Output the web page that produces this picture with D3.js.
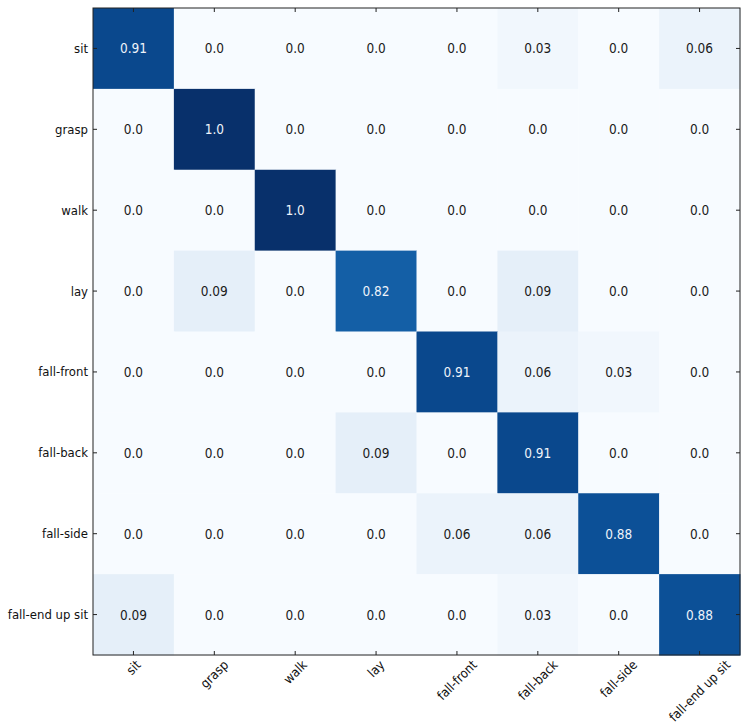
<!DOCTYPE html>
<html>
<head>
<meta charset="utf-8">
<script src="https://cdn.jsdelivr.net/npm/d3@7"></script>
<style>
  body { margin: 0; background: #fff; }
  text { font-family: "DejaVu Sans Condensed", "DejaVu Sans", sans-serif; }
</style>
</head>
<body>
<div id="chart"></div>
<script>
// class names, same order for rows (true) and columns (predicted)
var classes = ["sit", "grasp", "walk", "lay", "fall-front", "fall-back", "fall-side", "fall-end up sit"];

// normalised confusion matrix, one row per true class
var rowSit        = [0.91, 0.0, 0.0, 0.0, 0.0, 0.03, 0.0, 0.06];
var rowGrasp      = [0.0, 1.0, 0.0, 0.0, 0.0, 0.0, 0.0, 0.0];
var rowWalk       = [0.0, 0.0, 1.0, 0.0, 0.0, 0.0, 0.0, 0.0];
var rowLay        = [0.0, 0.09, 0.0, 0.82, 0.0, 0.09, 0.0, 0.0];
var rowFallFront  = [0.0, 0.0, 0.0, 0.0, 0.91, 0.06, 0.03, 0.0];
var rowFallBack   = [0.0, 0.0, 0.0, 0.09, 0.0, 0.91, 0.0, 0.0];
var rowFallSide   = [0.0, 0.0, 0.0, 0.0, 0.06, 0.06, 0.88, 0.0];
var rowFallEndSit = [0.09, 0.0, 0.0, 0.0, 0.0, 0.03, 0.0, 0.88];

var matrix = [rowSit, rowGrasp, rowWalk, rowLay, rowFallFront, rowFallBack, rowFallSide, rowFallEndSit];

var width = 748, height = 726;
var margin = { top: 8, right: 8, bottom: 71, left: 93 };
var plotW = width - margin.left - margin.right;
var plotH = height - margin.top - margin.bottom;
var fs = 13;

var svg = d3.select("#chart").append("svg")
    .attr("width", width)
    .attr("height", height);

var g = svg.append("g")
    .attr("transform", "translate(" + margin.left + "," + margin.top + ")");

var x = d3.scaleBand().domain(classes).range([0, plotW]);
var y = d3.scaleBand().domain(classes).range([0, plotH]);
var color = d3.scaleSequential(d3.interpolateBlues).domain([0, 1]);

// flatten the matrix into cells
var cells = [];
matrix.forEach(function (row, i) {
    row.forEach(function (v, j) {
        cells.push({ row: classes[i], col: classes[j], value: v });
    });
});

function fmt(v) {
    // python-style str() of a rounded float
    return (v === Math.round(v)) ? v.toFixed(1) : String(v);
}

g.selectAll("rect.cell")
    .data(cells)
    .enter()
    .append("rect")
    .attr("class", "cell")
    .attr("x", d => x(d.col))
    .attr("y", d => y(d.row))
    .attr("width", x.bandwidth() + 0.5)
    .attr("height", y.bandwidth() + 0.5)
    .attr("fill", d => color(d.value));

var thresh = d3.max(cells, d => d.value) / 2;

g.selectAll("text.val")
    .data(cells)
    .enter()
    .append("text")
    .attr("class", "val")
    .attr("x", d => x(d.col) + x.bandwidth() / 2)
    .attr("y", d => y(d.row) + y.bandwidth() / 2)
    .attr("text-anchor", "middle")
    .attr("dominant-baseline", "central")
    .attr("font-size", fs + 0.5)
    .attr("fill", d => d.value > thresh ? "#eef3fa" : "#1a1a1a")
    .text(d => fmt(d.value));

// axes, ticks pointing inwards like matplotlib classic
var tickLen = 4;
var ax = g.append("g").attr("class", "axes");

classes.forEach(function (c) {
    var cx = x(c) + x.bandwidth() / 2;
    var cy = y(c) + y.bandwidth() / 2;
    ax.append("line").attr("x1", cx).attr("x2", cx).attr("y1", 0).attr("y2", tickLen);
    ax.append("line").attr("x1", cx).attr("x2", cx).attr("y1", plotH).attr("y2", plotH - tickLen);
    ax.append("line").attr("y1", cy).attr("y2", cy).attr("x1", 0).attr("x2", tickLen);
    ax.append("line").attr("y1", cy).attr("y2", cy).attr("x1", plotW).attr("x2", plotW - tickLen);
});
ax.selectAll("line").attr("stroke", "#222").attr("stroke-width", 1);

g.append("rect")
    .attr("x", 0).attr("y", 0)
    .attr("width", plotW).attr("height", plotH)
    .attr("fill", "none")
    .attr("stroke", "#222")
    .attr("stroke-width", 1);

// y tick labels
g.selectAll("text.ylab")
    .data(classes)
    .enter()
    .append("text")
    .attr("class", "ylab")
    .attr("x", -5)
    .attr("y", d => y(d) + y.bandwidth() / 2)
    .attr("text-anchor", "end")
    .attr("dominant-baseline", "central")
    .attr("font-size", fs)
    .attr("fill", "#111")
    .text(d => d);

// x tick labels, rotated 45 degrees about their centre
g.selectAll("text.xlab")
    .data(classes)
    .enter()
    .append("text")
    .attr("class", "xlab")
    .attr("text-anchor", "middle")
    .attr("dominant-baseline", "central")
    .attr("font-size", fs)
    .attr("fill", "#111")
    .text(d => d)
    .attr("transform", function (d) {
        var w = this.getComputedTextLength();
        var off = (w + fs) * Math.SQRT1_2 / 2;
        return "translate(" + (x(d) + x.bandwidth() / 2) + "," + (plotH + 3 + off) + ") rotate(-45)";
    });
</script>
</body>
</html>
